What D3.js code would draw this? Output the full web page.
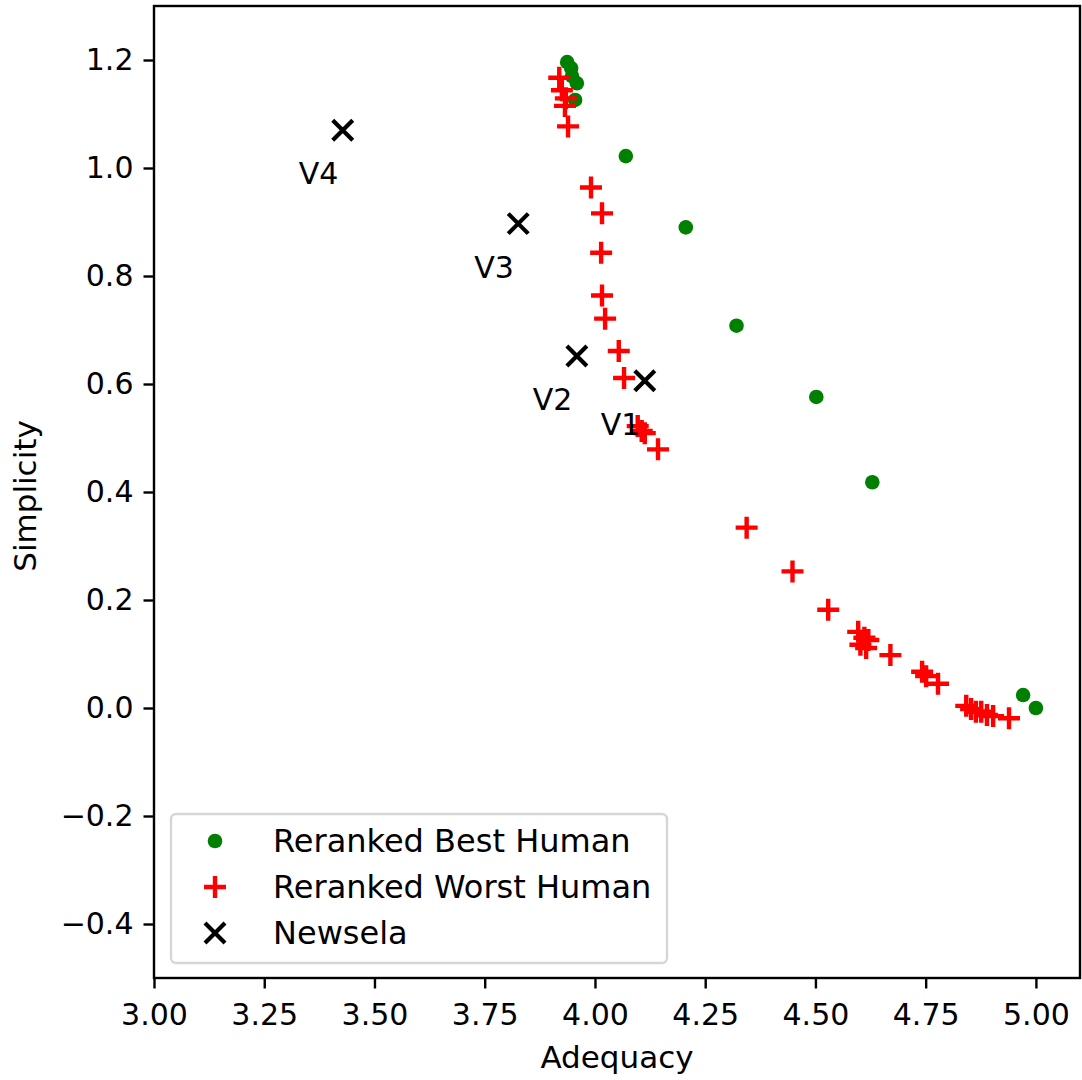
<!DOCTYPE html>
<html>
<head>
<meta charset="utf-8">
<script src="https://cdn.jsdelivr.net/npm/d3@7"></script>
<style>
  body { margin: 0; background: #fff; }
  svg { font-family: "DejaVu Sans", sans-serif; }
  .tick text { font-size: 30px; fill: #000; }
  .tick line { stroke: #000; stroke-width: 2.4; }
  .domain { display: none; }
</style>
</head>
<body>
<svg width="1082" height="1080"></svg>
<script>
const svg = d3.select('svg');

// Reranked Best Human (adequacy, simplicity)
const bestX = [3.937, 3.946, 3.948, 3.959, 3.955, 4.070, 4.206, 4.321, 4.502, 4.629, 4.971, 5.000];
const bestY = [1.196, 1.185, 1.170, 1.157, 1.126, 1.022, 0.890, 0.708, 0.576, 0.418, 0.024, 0.000];

// Reranked Worst Human
const worstX = [3.919, 3.925, 3.934, 3.932, 3.939, 3.991, 4.016, 4.014, 4.016, 4.023, 4.054, 4.066,
  4.097, 4.106, 4.113, 4.143, 4.344, 4.448, 4.529, 4.597, 4.611, 4.620, 4.602, 4.615, 4.670,
  4.742, 4.751, 4.778, 4.842, 4.853, 4.864, 4.876, 4.889, 4.903, 4.939];
const worstY = [1.167, 1.144, 1.129, 1.115, 1.077, 0.964, 0.916, 0.843, 0.764, 0.721, 0.661, 0.611,
  0.522, 0.513, 0.509, 0.479, 0.334, 0.253, 0.182, 0.141, 0.130, 0.126, 0.117, 0.111, 0.098,
  0.067, 0.059, 0.045, 0.004, -0.002, -0.007, -0.007, -0.013, -0.015, -0.019];

// Newsela versions
const newsLabels = ['V1', 'V2', 'V3', 'V4'];
const newsX = [4.113, 3.959, 3.826, 3.428];
const newsY = [0.606, 0.652, 0.897, 1.070];

const xTicks = [3.00, 3.25, 3.50, 3.75, 4.00, 4.25, 4.50, 4.75, 5.00];
const yTicks = [-0.4, -0.2, 0.0, 0.2, 0.4, 0.6, 0.8, 1.0, 1.2];

const margin = { top: 6, right: 2, bottom: 102, left: 154 };
const innerWidth = 1082 - margin.left - margin.right;
const innerHeight = 1080 - margin.top - margin.bottom;

const xScale = d3.scaleLinear().domain([3.0, 5.1]).range([0, innerWidth]);
const yScale = d3.scaleLinear().domain([-0.5, 1.3]).range([innerHeight, 0]);

const g = svg.append('g')
  .attr('transform', `translate(${margin.left},${margin.top})`);

const xAxis = g.append('g')
  .attr('transform', `translate(0,${innerHeight})`)
  .call(d3.axisBottom(xScale).tickValues(xTicks).tickFormat(d3.format('.2f'))
    .tickSizeOuter(0).tickSize(10.5).tickPadding(15));

const yAxis = g.append('g')
  .call(d3.axisLeft(yScale).tickValues(yTicks)
    .tickFormat(d => d3.format('.1f')(d).replace('-', '\u2212'))
    .tickSizeOuter(0).tickSize(10.5).tickPadding(10));

[xAxis, yAxis].forEach(a => a.attr('font-size', 30).attr('font-family', 'DejaVu Sans'));

g.append('rect')
  .attr('width', innerWidth).attr('height', innerHeight)
  .attr('fill', 'none').attr('stroke', '#000').attr('stroke-width', 2.4);

g.append('text')
  .attr('x', innerWidth / 2).attr('y', innerHeight + 90)
  .attr('text-anchor', 'middle').attr('font-size', 31)
  .text('Adequacy');

g.append('text')
  .attr('transform', `translate(-118,${innerHeight / 2 + 4}) rotate(-90)`)
  .attr('text-anchor', 'middle').attr('font-size', 31)
  .text('Simplicity');

const plus = (sel, s) => sel.append('path')
  .attr('d', `M${-s},0H${s}M0,${-s}V${s}`)
  .attr('stroke', 'red').attr('stroke-width', 4.4).attr('fill', 'none');
const cross = (sel, s) => sel.append('path')
  .attr('d', `M${-s},${-s}L${s},${s}M${-s},${s}L${s},${-s}`)
  .attr('stroke', '#000').attr('stroke-width', 4.2).attr('fill', 'none');

// green dots
g.selectAll('circle.best')
  .data(d3.range(bestX.length))
  .join('circle')
  .attr('class', 'best')
  .attr('cx', i => xScale(bestX[i]))
  .attr('cy', i => yScale(bestY[i]))
  .attr('r', 7.3)
  .attr('fill', 'green');

// red plusses
d3.range(worstX.length).forEach(i => {
  const p = g.append('g').attr('transform', `translate(${xScale(worstX[i])},${yScale(worstY[i])})`);
  plus(p, 11);
});

// newsela crosses + labels
newsLabels.forEach((lab, i) => {
  const p = g.append('g').attr('transform', `translate(${xScale(newsX[i])},${yScale(newsY[i])})`);
  cross(p, 10);
  g.append('text')
    .attr('x', xScale(newsX[i] - 0.1))
    .attr('y', yScale(newsY[i] - 0.1))
    .attr('font-size', 30)
    .text(lab);
});

// legend
const legendItems = ['Reranked Best Human', 'Reranked Worst Human', 'Newsela'];
const lg = svg.append('g').attr('transform', 'translate(171,814)');
lg.append('rect')
  .attr('width', 496).attr('height', 149).attr('rx', 5)
  .attr('fill', '#fff').attr('fill-opacity', 0.8)
  .attr('stroke', '#d6d6d6').attr('stroke-width', 2.4);
legendItems.forEach((lab, i) => {
  const cy = 27 + i * 46;
  const m = lg.append('g').attr('transform', `translate(44,${cy})`);
  if (i === 0) m.append('circle').attr('r', 7.3).attr('fill', 'green');
  if (i === 1) plus(m, 11);
  if (i === 2) cross(m, 10);
  lg.append('text').attr('x', 102).attr('y', cy + 11).attr('font-size', 32).text(lab);
});
</script>
</body>
</html>
